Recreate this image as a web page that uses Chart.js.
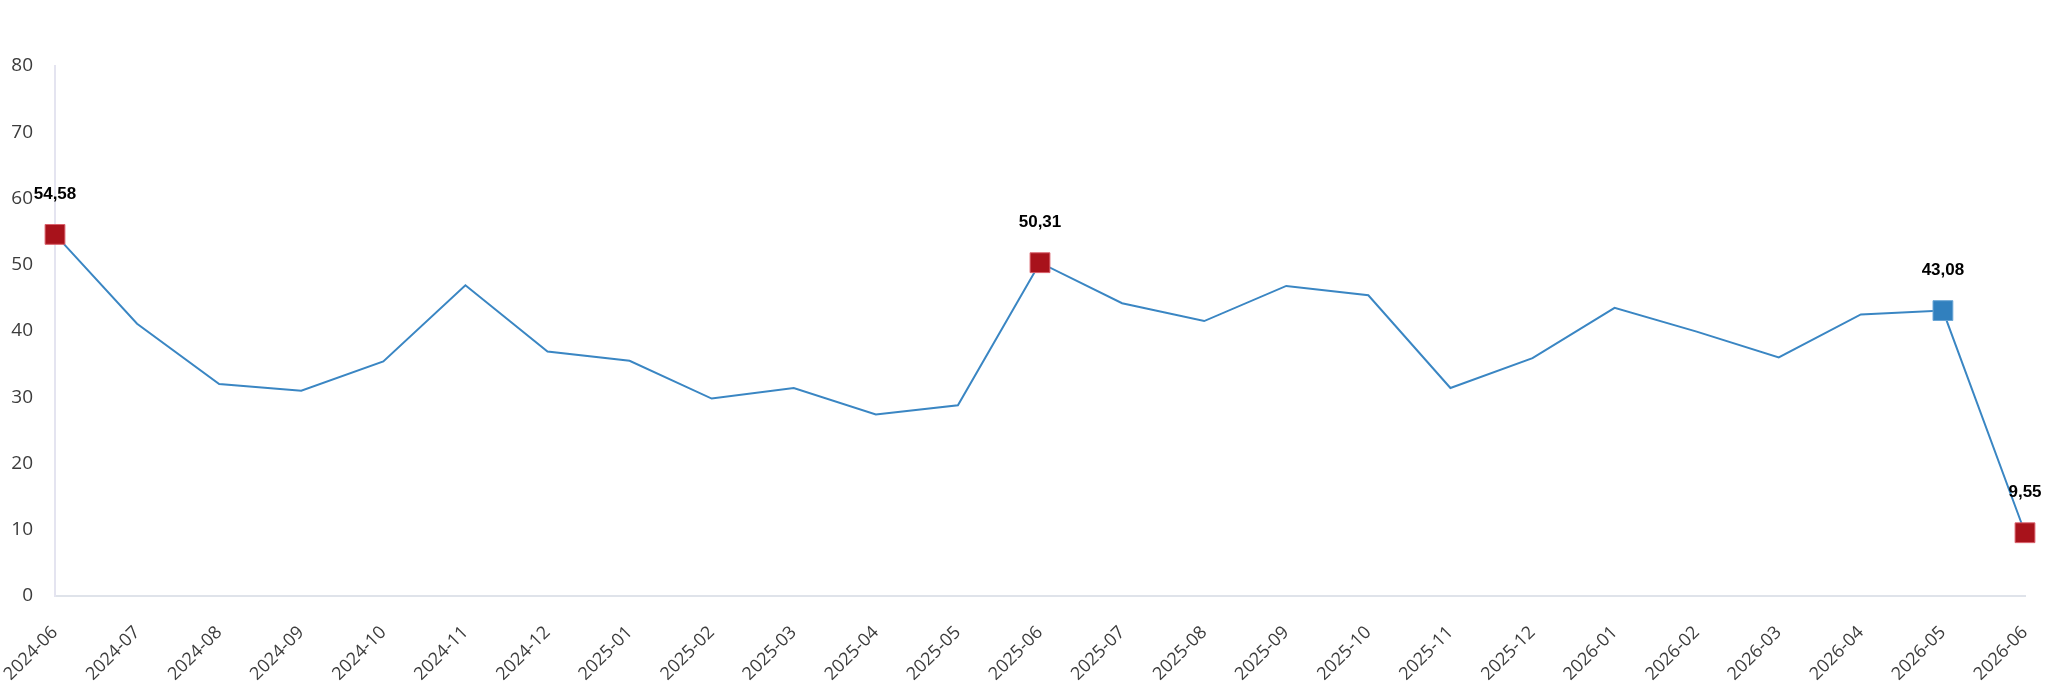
<!DOCTYPE html>
<html>
<head>
<meta charset="utf-8">
<title>Line chart</title>
<script src="https://cdn.jsdelivr.net/npm/chart.js@4/dist/chart.umd.min.js"></script>
<style>
  html, body { margin: 0; padding: 0; background: #fff; }
  #wrap { width: 2047px; height: 687px; }
</style>
</head>
<body>
<div id="wrap"><canvas id="chart" width="2047" height="687"></canvas></div>
<script>
const months = [
  '2024-06', '2024-07', '2024-08', '2024-09', '2024-10', '2024-11', '2024-12',
  '2025-01', '2025-02', '2025-03', '2025-04', '2025-05', '2025-06', '2025-07',
  '2025-08', '2025-09', '2025-10', '2025-11', '2025-12', '2026-01', '2026-02',
  '2026-03', '2026-04', '2026-05', '2026-06'
];
const values = [
  54.58, 41.1, 32.0, 31.0, 35.4, 46.9, 36.9,
  35.5, 29.8, 31.4, 27.4, 28.8, 50.31, 44.2,
  41.5, 46.8, 45.4, 31.4, 35.9, 43.5, 39.9,
  36.0, 42.5, 43.08, 9.55
];
// points that get a square marker and a value label
const redPoints = [0, 12, 24];
const bluePoints = [23];
const yTicks = [0, 10, 20, 30, 40, 50, 60, 70, 80];

const RED = '#a8121b';
const BLUE = '#3180be';
const LINE = '#3a86c3';

const isMarked = i => redPoints.includes(i) || bluePoints.includes(i);
const markColor = i => bluePoints.includes(i) ? BLUE : RED;
const fmt = v => v.toFixed(2).replace('.', ',');

const valueLabels = {
  id: 'valueLabels',
  afterDatasetsDraw(chart) {
    const ctx = chart.ctx;
    const meta = chart.getDatasetMeta(0);
    ctx.save();
    ctx.font = 'bold 17px "Liberation Sans", Arial, sans-serif';
    ctx.fillStyle = '#000';
    ctx.textAlign = 'center';
    ctx.textBaseline = 'middle';
    meta.data.forEach((pt, i) => {
      if (!isMarked(i)) return;
      ctx.fillText(fmt(values[i]), pt.x, pt.y - 40);
    });
    ctx.restore();
  }
};

new Chart(document.getElementById('chart').getContext('2d'), {
  type: 'line',
  data: {
    labels: months,
    datasets: [{
      data: values,
      borderColor: LINE,
      borderWidth: 2,
      tension: 0,
      fill: false,
      clip: false,
      pointStyle: 'rect',
      pointRadius: ctx => isMarked(ctx.dataIndex) ? 14 : 0,
      pointHoverRadius: ctx => isMarked(ctx.dataIndex) ? 14 : 0,
      pointBackgroundColor: ctx => markColor(ctx.dataIndex),
      pointBorderColor: ctx => bluePoints.includes(ctx.dataIndex) ? '#6aa6d6' : '#d9606b',
      pointBorderWidth: 1
    }]
  },
  options: {
    responsive: false,
    animation: false,
    events: [],
    layout: { padding: { top: 66, right: 22, bottom: 0, left: 0 } },
    plugins: {
      legend: { display: false },
      tooltip: { enabled: false }
    },
    scales: {
      x: {
        type: 'category',
        offset: false,
        grid: { display: false, drawTicks: false },
        border: { display: true, color: '#dfe3ea', width: 2 },
        ticks: {
          color: '#3c3c3c',
          font: { family: '"Open Sans", sans-serif', size: 18 },
          minRotation: 45,
          maxRotation: 45,
          autoSkip: false,
          padding: 26
        },
        afterFit(scale) {
          scale.height = 91;
          scale.paddingLeft = 0;
          scale.paddingRight = 0;
        }
      },
      y: {
        min: 0,
        max: 80,
        afterBuildTicks(scale) {
          scale.ticks = yTicks.map(v => ({ value: v }));
        },
        grid: { display: false, drawTicks: false },
        border: { display: true, color: '#e4e4f0', width: 2 },
        ticks: {
          color: '#3c3c3c',
          font: { family: '"Open Sans", sans-serif', size: 19 },
          padding: 22
        },
        afterFit(scale) {
          scale.width = 55;
        }
      }
    }
  },
  plugins: [valueLabels]
});
</script>
</body>
</html>
